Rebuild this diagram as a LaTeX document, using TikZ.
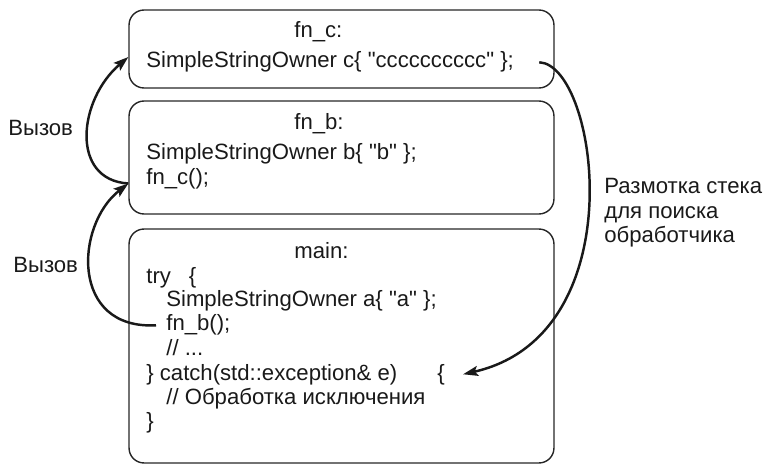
\documentclass[tikz,border=0pt]{standalone}
\usepackage{fontspec}
\setmainfont{Liberation Sans}[Ligatures=TeXOff]
\usetikzlibrary{arrows.meta,calc,positioning}
\tikzset{
  frame/.style={
    draw = black!85,
    line width = 0.8pt,
    rounded corners = 0.3cm,
    minimum width = 8.5cm,
    inner sep = 0
  },
  code/.style={
    anchor = base west,
    inner sep = 0,
    text = black!90,
    font = \fontsize{12.6}{14}\selectfont
  },
  call/.style={
    line width = 1.4pt,
    black!90,
    -{Stealth[length=3mm,width=2mm,inset=0.6mm]}
  }
}

\begin{document}
\begin{tikzpicture}[x=0.02cm,y=-0.02cm]
  \useasboundingbox (0,0) rectangle (765,466);
  % stack frames
  \node[frame, minimum height=1.56cm] (fc) at (341.5,49) {};
  \node[frame, minimum height=2.26cm] (fb) at (341.5,157.5) {};
  \node[frame, minimum height=4.68cm] (fmain) at (341.5,346) {};
  % fn_c
  \node[code] (hc) at (294,38) {fn\_c:};
  \node[code] (lc) at (146,68) {SimpleStringOwner c\{ "cccccccccc" \};};
  % fn_b
  \node[code] (hb) at (294,130) {fn\_b:};
  \node[code] (lb) at (146,160) {SimpleStringOwner b\{ "b" \};};
  \node[code] (lfnc) at (146,185) {fn\_c();};
  % main
  \node[code] (hmain) at (294,258) {main:};
  \node[code] (ltry) at (146,283) {try\hspace{3.6mm}\{};
  \node[code] (la) at (166,307) {SimpleStringOwner a\{ "a" \};};
  \node[code] (lfnb) at (166,331) {fn\_b();};
  \node[code] (ldots) at (166,355.5) {// ...};
  \node[code] (lcatch) at (146,380) {\} catch(std::exception\& e)};
  \node[code] (brace) at (437,380) {\{};
  \node[code] (lhandle) at (166,404) {// Обработка исключения};
  \node[code] (lend) at (146,428) {\}};
  % labels
  \node[code] (call1) at (8,136) {Вызов};
  \node[code] (call2) at (13,273) {Вызов};
  \foreach \t [count=\i] in {Размотка стека, для поиска, обработчика}
    \node[code] (unw\i) at (604,169+24.5*\i) {\t};
  % arrows
  \draw[call] ([yshift=-0.52cm]fb.west) .. controls (70,180) and (78,100) .. ([yshift=-0.16cm]fc.west);
  \draw[call] ([xshift=-0.2cm]lfnb.west) .. controls (70,330) and (75,225) .. ([yshift=-0.52cm]fb.west);
  \draw[call] ([xshift=0.5cm]lc.east) .. controls (598,65) and (636,335) .. ([xshift=0.36cm]brace.east);
\end{tikzpicture}
\end{document}
